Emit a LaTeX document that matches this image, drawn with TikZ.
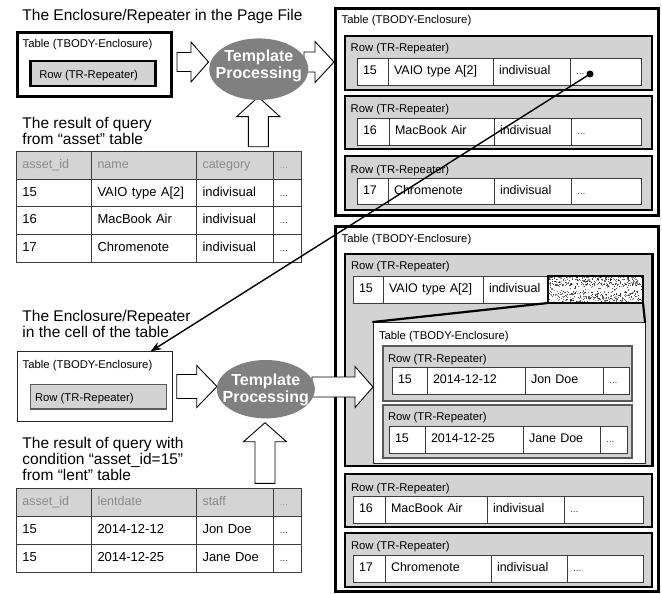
\documentclass[tikz,border=0pt]{standalone}
\usepackage{fontspec}
\setmainfont{Liberation Sans}
\usetikzlibrary{arrows.meta,calc,shapes.geometric}
\definecolor{rowgray}{HTML}{D3D3D3}
\definecolor{hdrgray}{HTML}{D4D4D4}
\definecolor{hdrtext}{HTML}{8A8A8A}
\definecolor{ellgray}{HTML}{808080}
\definecolor{cellline}{HTML}{3C3C3C}
% box node: name, style, x1, y1, x2, y2
\newcommand\bx[6]{\node[#2,anchor=north west,minimum width={#5pt-#3pt},minimum height={#6pt-#4pt}] (#1) at (#3,#4) {};}
% cell node: name, style, x1, y1, x2, y2, text
\newcommand\cl[7]{\node[#2,anchor=north west,minimum width={#5pt-#3pt},minimum height={#6pt-#4pt},text width={#5pt-#3pt-12pt}] (#1) at (#3,#4) {#7};}
% label: name, style, x, baseline y, text
\newcommand\lb[5]{\node[#2,anchor=base west] (#1) at (#3,#4) {#5};}
% horizontal block arrow: tail x, center y, head base x, tip x, shaft half, head half
\newcommand\harrow[6]{\draw[blockarr] (#1,#2-#5) -- (#3,#2-#5) -- (#3,#2-#6) -- (#4,#2) -- (#3,#2+#6) -- (#3,#2+#5) -- (#1,#2+#5) -- cycle;}
% vertical up arrow: center x, bottom y, head base y, tip y, shaft half, head half
\newcommand\uarrow[6]{\draw[blockarr] (#1-#5,#2) -- (#1-#5,#3) -- (#1-#6,#3) -- (#1,#4) -- (#1+#6,#3) -- (#1+#5,#3) -- (#1+#5,#2) -- cycle;}
\newcommand\smdots{{\fontsize{8.5}{9}\selectfont\ldots}}
\tikzset{
  box/.style={outer sep=0pt,inner sep=0pt},
  bigtbl/.style={box,draw=black,line width=3pt,fill=white},
  thintbl/.style={box,draw=black!85,line width=1pt,fill=white},
  rowbox/.style={box,draw=black,line width=2.2pt,fill=rowgray},
  thinrow/.style={box,draw=black!65,line width=1.1pt,fill=rowgray},
  cellbox/.style={draw=cellline,line width=0.9pt,fill=white,inner xsep=6pt,inner ysep=0pt,outer sep=0pt,align=left,
     font=\fontsize{12.5}{14}\selectfont,text height=9pt,text depth=2.5pt},
  lcell/.style={cellbox,font=\fontsize{13}{15}\selectfont,inner xsep=6.5pt},
  hdr/.style={lcell,fill=hdrgray,text=hdrtext,font=\fontsize{12.5}{14}\selectfont},
  lbl/.style={inner sep=0pt,outer sep=0pt,font=\fontsize{11.3}{13}\selectfont},
  ttl/.style={inner sep=0pt,outer sep=0pt,font=\fontsize{15.5}{16.3}\selectfont,align=left},
  ell/.style={ellipse,fill=ellgray,draw=none,inner sep=0pt,outer sep=0pt},
  elltext/.style={inner sep=0pt,text=white,font=\fontsize{16}{16.6}\selectfont\bfseries,align=center},
  blockarr/.style={draw=black,line width=0.9pt,fill=white,line join=miter},
}
\begin{document}
\begin{tikzpicture}[x=1pt,y=-1pt]
\useasboundingbox (0,0) rectangle (662,594);
\fill[white] (0,0) rectangle (662,594);

% ---------- titles ----------
\lb{t1}{ttl}{22.5}{21}{The Enclosure/Repeater in the Page File}
\node[ttl,anchor=north west] (t2) at (22.5,116.9) {The result of query\\from “asset” table};
\node[ttl,anchor=north west] (t3) at (22.5,310.4) {The Enclosure/Repeater\\in the cell of the table};
\node[ttl,anchor=north west] (t4) at (22.5,436.8) {The result of query with\\condition “asset\_id=15”\\from “lent” table};

% ---------- top-left page file ----------
\bx{lt1}{bigtbl}{17.5}{32.5}{171.8}{96.2}
\bx{lr1}{rowbox}{30.5}{61.2}{155.5}{86.2}
\lb{lt1l}{lbl}{22.7}{47.5}{Table (TBODY-Enclosure)}
\lb{lr1l}{lbl}{39.3}{78.3}{Row (TR-Repeater)}

% ---------- asset table ----------
\cl{a00}{hdr}{16}{151}{91}{179.5}{asset\_id}
\cl{a01}{hdr}{91}{151}{196}{179.5}{name}
\cl{a02}{hdr}{196}{151}{273}{179.5}{category}
\cl{a03}{hdr}{273}{151}{300}{179.5}{\smdots}
\cl{a10}{lcell}{16}{179.5}{91}{206}{15}
\cl{a11}{lcell}{91}{179.5}{196}{206}{VAIO type A[2]}
\cl{a12}{lcell}{196}{179.5}{273}{206}{indivisual}
\cl{a13}{lcell}{273}{179.5}{300}{206}{\smdots}
\cl{a20}{lcell}{16}{206}{91}{234}{16}
\cl{a21}{lcell}{91}{206}{196}{234}{MacBook Air}
\cl{a22}{lcell}{196}{206}{273}{234}{indivisual}
\cl{a23}{lcell}{273}{206}{300}{234}{\smdots}
\cl{a30}{lcell}{16}{234}{91}{262}{17}
\cl{a31}{lcell}{91}{234}{196}{262}{Chromenote}
\cl{a32}{lcell}{196}{234}{273}{262}{indivisual}
\cl{a33}{lcell}{273}{234}{300}{262}{\smdots}

% ---------- bottom-left cell template ----------
\bx{lt2}{thintbl}{17.8}{351.5}{172.8}{421.5}
\bx{lr2}{thinrow}{30.5}{384.5}{166.5}{409}
\lb{lt2l}{lbl}{22.7}{368.3}{Table (TBODY-Enclosure)}
\lb{lr2l}{lbl}{35}{401.5}{Row (TR-Repeater)}

% ---------- lent table ----------
\cl{b00}{hdr}{16}{488}{91}{516.5}{asset\_id}
\cl{b01}{hdr}{91}{488}{196}{516.5}{lentdate}
\cl{b02}{hdr}{196}{488}{273}{516.5}{staff}
\cl{b03}{hdr}{273}{488}{300}{516.5}{\smdots}
\cl{b10}{lcell}{16}{516.5}{91}{544}{15}
\cl{b11}{lcell}{91}{516.5}{196}{544}{2014-12-12}
\cl{b12}{lcell}{196}{516.5}{273}{544}{Jon Doe}
\cl{b13}{lcell}{273}{516.5}{300}{544}{\smdots}
\cl{b20}{lcell}{16}{544}{91}{572}{15}
\cl{b21}{lcell}{91}{544}{196}{572}{2014-12-25}
\cl{b22}{lcell}{196}{544}{273}{572}{Jane Doe}
\cl{b23}{lcell}{273}{544}{300}{572}{\smdots}

% ---------- result table (top right) ----------
\bx{rt1}{bigtbl}{335.5}{8.5}{658.5}{215.5}
\lb{rt1l}{lbl}{341.7}{23.5}{Table (TBODY-Enclosure)}
\bx{r1}{rowbox}{345}{36}{652}{90}
\lb{r1l}{lbl}{350.7}{51.7}{Row (TR-Repeater)}
\cl{r1c0}{cellbox}{357}{58}{388}{85}{15}
\cl{r1c1}{cellbox}{388}{58}{493}{85}{VAIO type A[2]}
\cl{r1c2}{cellbox}{493}{58}{570}{85}{indivisual}
\cl{r1c3}{cellbox}{570}{58}{641}{85}{\smdots}
\bx{r2}{rowbox}{345}{96}{652}{149}
\lb{r2l}{lbl}{350.7}{113}{Row (TR-Repeater)}
\cl{r2c0}{cellbox}{357}{118}{389}{145}{16}
\cl{r2c1}{cellbox}{389}{118}{494}{145}{MacBook Air}
\cl{r2c2}{cellbox}{494}{118}{571}{145}{indivisual}
\cl{r2c3}{cellbox}{571}{118}{641}{145}{\smdots}
\bx{r3}{rowbox}{345}{156}{652}{210}
\lb{r3l}{lbl}{350.7}{173}{Row (TR-Repeater)}
\cl{r3c0}{cellbox}{357}{178}{388}{204}{17}
\cl{r3c1}{cellbox}{388}{178}{494}{204}{Chromenote}
\cl{r3c2}{cellbox}{494}{178}{571}{204}{indivisual}
\cl{r3c3}{cellbox}{571}{178}{641}{204}{\smdots}

% ---------- result table (bottom right) ----------
\bx{rt2}{bigtbl}{335.5}{226.5}{658.5}{591.5}
\lb{rt2l}{lbl}{341.7}{242}{Table (TBODY-Enclosure)}
\bx{ra}{rowbox}{345}{254}{652.5}{466}
\lb{ral}{lbl}{351}{269.3}{Row (TR-Repeater)}
\cl{rac0}{cellbox}{353}{276}{383}{303}{15}
\cl{rac1}{cellbox}{383}{276}{483}{303}{VAIO type A[2]}
\cl{rac2}{cellbox}{483}{276}{548}{303}{indivisual}
\bx{rac3}{box,fill=white}{548}{276}{643}{303}
\pgfmathsetseed{11}
\foreach \i in {1,...,650}{
  \pgfmathsetmacro\rx{548+95*rnd}
  \pgfmathsetmacro\ru{rnd}
  \pgfmathsetmacro\ry{\ru<0.45 ? 276+10*rnd : (\ru<0.88 ? 292+11*rnd : 284+9*rnd)}
  \pgfmathsetmacro\rs{0.5+0.8*rnd}
  \pgfmathsetmacro\rk{40+45*rnd}
  \fill[black!\rk] (\rx,\ry) rectangle ++(\rs,-\rs);
}
\draw[black,line width=2pt] (rac3.south west) rectangle (rac3.north east);
% inner table
\bx{it}{thintbl}{373}{322}{645}{463}
\draw[black,line width=2.2pt,line cap=round] (rac3.south west) -- (it.north west);
\draw[black,line width=2.2pt,line cap=round] (rac3.south east) -- (it.north east);
\lb{itl}{lbl}{379}{339.3}{Table (TBODY-Enclosure)}
\bx{ir1}{thinrow}{383}{346}{632}{401}
\lb{ir1l}{lbl}{388}{362.7}{Row (TR-Repeater)}
\cl{ir1c0}{cellbox}{392}{367}{427}{394}{15}
\cl{ir1c1}{cellbox}{427}{367}{525}{394}{2014-12-12}
\cl{ir1c2}{cellbox}{525}{367}{603}{394}{Jon Doe}
\cl{ir1c3}{cellbox}{603}{367}{629}{394}{\smdots}
\bx{ir2}{thinrow}{383}{405}{632}{458}
\lb{ir2l}{lbl}{388}{420.7}{Row (TR-Repeater)}
\cl{ir2c0}{cellbox}{389}{426}{425}{453}{15}
\cl{ir2c1}{cellbox}{425}{426}{523}{453}{2014-12-25}
\cl{ir2c2}{cellbox}{523}{426}{600}{453}{Jane Doe}
\cl{ir2c3}{cellbox}{600}{426}{627}{453}{\smdots}
% rows 16, 17
\bx{rb}{rowbox}{345}{474}{652}{527}
\lb{rbl}{lbl}{351}{491.5}{Row (TR-Repeater)}
\cl{rbc0}{cellbox}{353}{496}{385}{523}{16}
\cl{rbc1}{cellbox}{385}{496}{487}{523}{MacBook Air}
\cl{rbc2}{cellbox}{487}{496}{564}{523}{indivisual}
\cl{rbc3}{cellbox}{564}{496}{643}{523}{\smdots}
\bx{rc}{rowbox}{345}{533}{652}{587}
\lb{rcl}{lbl}{351}{549.3}{Row (TR-Repeater)}
\cl{rcc0}{cellbox}{353}{555}{385}{582}{17}
\cl{rcc1}{cellbox}{385}{555}{491}{582}{Chromenote}
\cl{rcc2}{cellbox}{491}{555}{567}{582}{indivisual}
\cl{rcc3}{cellbox}{567}{555}{643}{582}{\smdots}

% ---------- block arrows ----------
\harrow{177}{62}{191}{208.5}{9.5}{20}
\harrow{304}{62}{315}{334}{10}{20.5}
\uarrow{258.3}{146.7}{116.7}{97}{10}{21.7}
\harrow{176.7}{386.5}{196.7}{217}{12}{21}
\harrow{312}{387}{355}{373}{10}{20.5}
\uarrow{265}{483.3}{441.7}{422.7}{10}{21.5}

% ---------- template processing ----------
\node[ell,minimum width=99pt,minimum height=61.6pt] (ep1) at (258.8,69.2) {};
\node[elltext] (ep1t) at (258.8,66) {Template\\Processing};
\node[ell,minimum width=98pt,minimum height=58.4pt] (ep2) at (265.8,389.2) {};
\node[elltext] (ep2t) at (265.8,390) {Template\\Processing};

% ---------- connector ----------
\node[circle,fill=black,inner sep=0pt,minimum size=7pt] (dot) at (590,74) {};
\draw[line width=1.4pt,-{Stealth[length=11pt,width=8pt]}] (dot.center) -- (lt2);
\end{tikzpicture}
\end{document}
